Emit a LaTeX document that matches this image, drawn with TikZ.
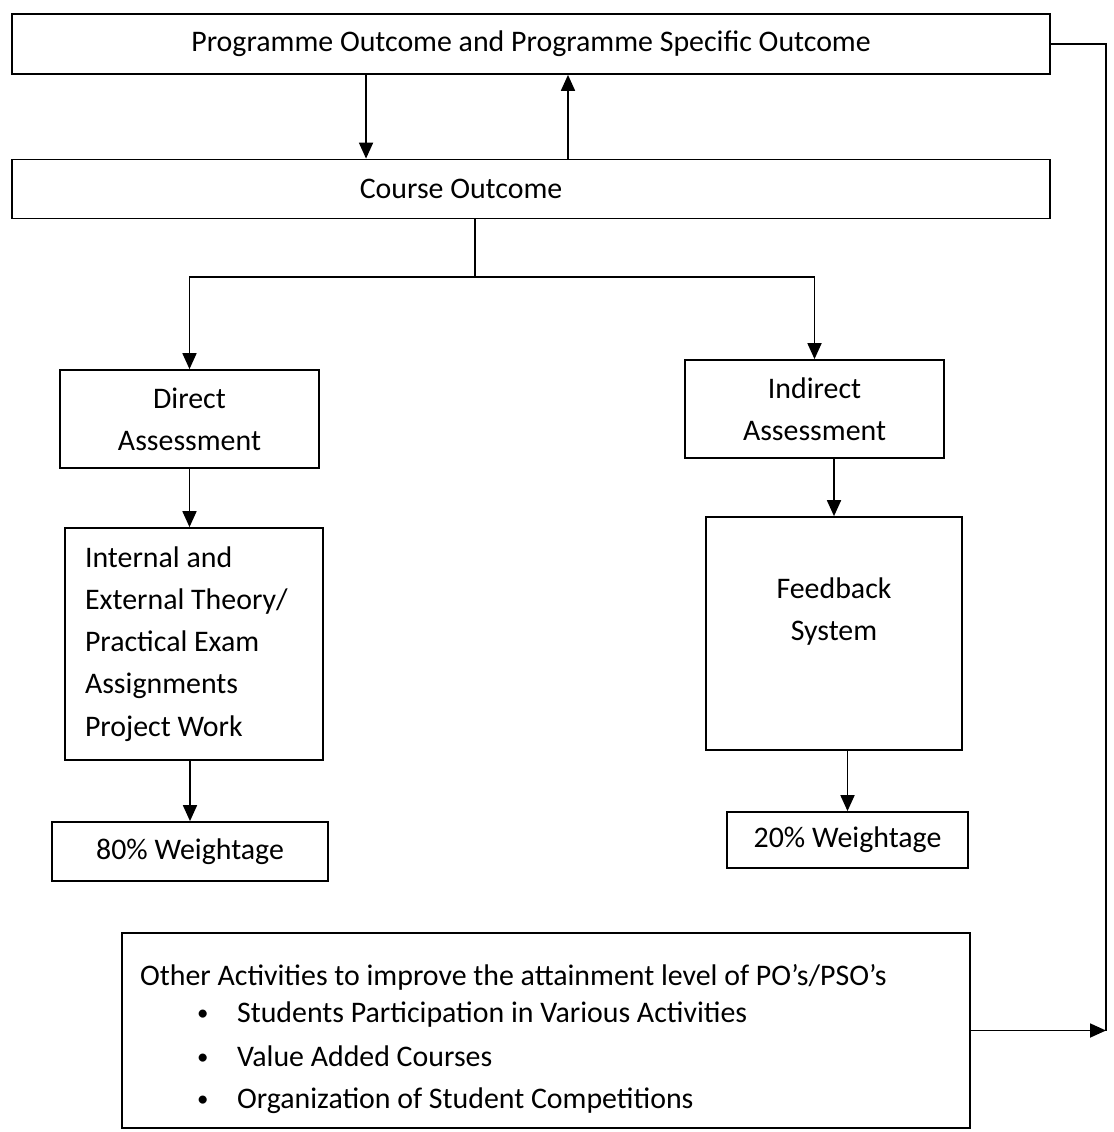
\documentclass[tikz,border=0pt]{standalone}
\usepackage{fontspec}
\setmainfont{Carlito}
\usepackage{tikz}
\usetikzlibrary{arrows.meta}
\usetikzlibrary{positioning}
\tikzset{box/.style = {draw, line width = 1pt, inner sep = 0, align = center,
    font = \fontsize{17}{24}\selectfont}}
\tikzset{arr/.style = {line width = 1pt, -{Triangle[length = 0.32cm, width = 0.28cm]}}}
\tikzset{link/.style = {line width = 1pt}}
\newcommand{\actitem}[1]{\hspace*{1.14cm}\makebox[0.8cm][l]{\raisebox{0.04cm}{\fontsize{13}{13}\selectfont\textbullet}}#1}

\begin{document}
\begin{tikzpicture}[x = 0.02cm, y = -0.02cm]
    \useasboundingbox (0, 0) rectangle (1113, 1132);

    \node (po) at (531, 44) [box, minimum width = 20.76cm, minimum height = 1.2cm]
      {Programme Outcome and Programme Specific Outcome};
    \node (co) at (531, 189) [box, minimum width = 20.76cm, minimum height = 1.18cm]
      {Course Outcome\hspace*{2.8cm}};
    \node (direct) at (189.5, 419) [box, minimum width = 5.18cm, minimum height = 1.96cm]
      {Direct\\Assessment};
    \node (indirect) at (814.5, 409) [box, minimum width = 5.18cm, minimum height = 1.96cm]
      {Indirect\\Assessment};
    \node (exams) at (194, 644) [box, align = flush left, inner xsep = 0.4cm, text width = 4.36cm,
      minimum height = 4.64cm]
      {Internal and\\External Theory/\\Practical Exam\\Assignments\\Project Work};
    \node (feedback) at (834, 633.5) [box, minimum width = 5.12cm, minimum height = 4.66cm,
      text depth = 0.98cm]
      {Feedback\\System};
    \node (w80) at (190, 851.5) [box, minimum width = 5.52cm, minimum height = 1.18cm]
      {80\% Weightage};
    \node (w20) at (847.5, 840) [box, minimum width = 4.82cm, minimum height = 1.12cm]
      {20\% Weightage};
    \node (other) at (546, 1030.5) [box, align = flush left, inner xsep = 0.36cm, text width = 16.24cm,
      minimum height = 3.9cm]
      {\rule{0pt}{21.5pt}Other Activities to improve the attainment level of PO’s/PSO’s\\[-0.1cm]
       \actitem{Students Participation in Various Activities}\\[0.04cm]
       \actitem{Value Added Courses}\\
       \actitem{Organization of Student Competitions}};

    \coordinate (split) at (475, 277);
    \coordinate (join) at (1106, 1030.5);

    \draw [arr] ([xshift = -3.3cm]po.south) -- ([xshift = -3.3cm]co.north);
    \draw [arr] ([xshift = 0.74cm]co.north) -- ([xshift = 0.74cm]po.south);
    \draw [link] (co.south -| split) -- (split);
    \draw [arr] (split) -| (direct.north);
    \draw [arr] (split) -| (indirect.north);
    \draw [arr] (direct.south) -- (direct.south |- exams.north);
    \draw [arr] (exams.south -| w80.north) -- (w80.north);
    \draw [arr] (indirect.south -| feedback.north) -- (feedback.north);
    \draw [arr] (feedback.south -| w20.north) -- (w20.north);
    \draw [link] (po.east) -| (join);
    \draw [arr] (other.east) -- (join);
  \end{tikzpicture}
\end{document}
